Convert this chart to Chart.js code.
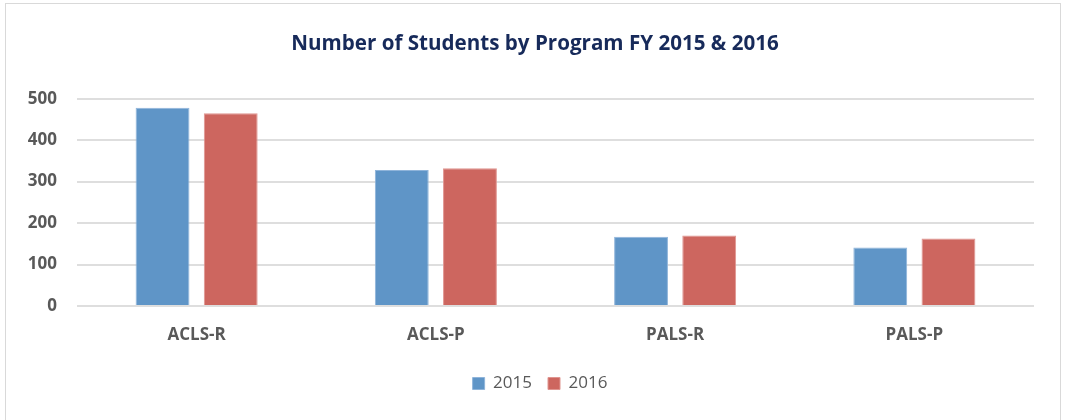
<!DOCTYPE html>
<html>
<head>
<meta charset="utf-8">
<script src="https://cdn.jsdelivr.net/npm/chart.js@4"></script>
<style>
  html, body { margin: 0; padding: 0; background: #fff; overflow: hidden; }
  .frame { position: absolute; left: 5px; top: 3px; width: 1054px; height: 440px; border: 1px solid #d9d9d9; }
  .chart-canvas { position: relative; width: 1054px; height: 416px; }
</style>
</head>
<body>
<div class="frame">
  <div class="chart-canvas"><canvas id="students"></canvas></div>
</div>
<script>
const categories = ["ACLS-R", "ACLS-P", "PALS-R", "PALS-P"];
const students2015 = [478, 328, 167, 141];
const students2016 = [465, 332, 170, 163];
const yTicks = [0, 100, 200, 300, 400, 500];

const BLUE = "#5f95c7";
const RED = "#cd665f";
const GREY = "#595959";
const FONT = "'Open Sans', 'DejaVu Sans', sans-serif";

// title and legend sit a little right of centre in the original
const nudge = {
  id: "nudge",
  afterLayout(chart) {
    if (chart.legend) {
      chart.legend.left += 20;
      chart.legend.right += 20;
    }
    if (chart.titleBlock) {
      chart.titleBlock.left += 15;
      chart.titleBlock.right += 15;
    }
  },
};

new Chart(document.getElementById("students"), {
  type: "bar",
  data: {
    labels: categories,
    datasets: [
      { label: "2015", data: students2015, backgroundColor: BLUE, borderColor: "#8fb4da", borderWidth: 1 },
      { label: "2016", data: students2016, backgroundColor: RED, borderColor: "#e09590", borderWidth: 1 },
    ],
  },
  plugins: [nudge],
  options: {
    responsive: true,
    maintainAspectRatio: false,
    animation: false,
    categoryPercentage: 0.57,
    barPercentage: 0.79,
    layout: { padding: { left: 0, right: 26, top: 0, bottom: 18 } },
    plugins: {
      title: {
        display: true,
        text: "Number of Students by Program FY 2015 & 2016",
        color: "#172a5a",
        font: { family: FONT, size: 20.6, weight: "bold" },
        padding: { top: 28, bottom: 42 },
      },
      legend: {
        position: "bottom",
        labels: {
          color: GREY,
          font: { family: FONT, size: 17 },
          boxWidth: 12,
          boxHeight: 12,
          padding: 16,
        },
      },
      tooltip: { enabled: false },
    },
    scales: {
      x: {
        grid: { display: false, drawTicks: false },
        border: { display: false },
        ticks: { color: GREY, font: { family: FONT, size: 17, weight: "bold" }, padding: 19 },
        afterFit: (s) => { s.height = 53; },
      },
      y: {
        min: 0,
        max: 500,
        afterBuildTicks: (s) => { s.ticks = yTicks.map((v) => ({ value: v })); },
        grid: { color: "#dedede", lineWidth: 2, drawTicks: false },
        border: { display: false },
        ticks: { color: GREY, font: { family: FONT, size: 17, weight: "bold" }, padding: 20 },
        afterFit: (s) => { s.width = 71; },
      },
    },
  },
});
</script>
</body>
</html>
